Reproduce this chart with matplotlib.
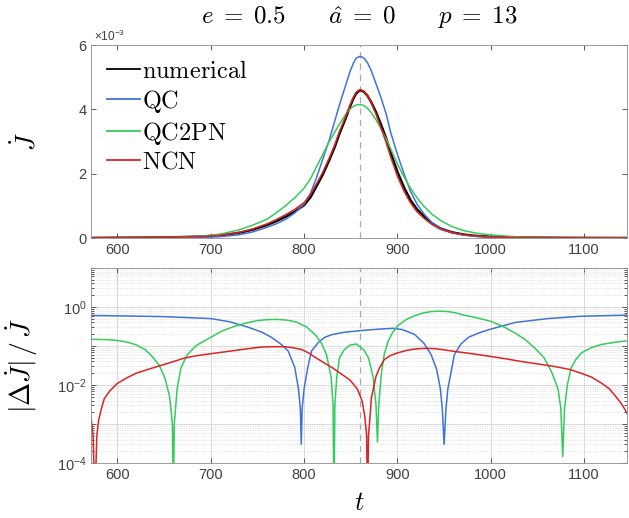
import numpy as np
import matplotlib
matplotlib.use("Agg")
import matplotlib.pyplot as plt

plt.rcParams['font.family'] = ['Liberation Sans', 'DejaVu Sans']
plt.rcParams['mathtext.fontset'] = 'custom'
plt.rcParams['mathtext.rm'] = 'Liberation Sans'
plt.rcParams['mathtext.it'] = 'Liberation Sans:italic'
plt.rcParams['mathtext.bf'] = 'Liberation Sans:bold'

# ---- top panel: flux Jdot (units of 1e-3) ----
t_top = [572, 600, 630, 660, 690, 710, 730, 745, 760, 770, 780, 790, 800, 807, 813, 820, 827,
         833, 838, 844, 849, 853, 856, 860, 864, 868, 872, 877, 882, 888, 893, 900, 907, 914,
         921, 929, 937, 946, 958, 971, 985, 1000, 1025, 1050, 1100, 1150]
jdot_num = [0.005, 0.01, 0.015, 0.025, 0.045, 0.08, 0.16, 0.26, 0.40, 0.52, 0.66, 0.82, 1.02,
            1.27, 1.59, 1.97, 2.42, 2.84, 3.25, 3.68, 4.07, 4.35, 4.50, 4.60, 4.55, 4.42, 4.22,
            3.92, 3.56, 3.10, 2.63, 2.06, 1.58, 1.18, 0.89, 0.66, 0.46, 0.30, 0.18, 0.11, 0.065,
            0.04, 0.02, 0.012, 0.005, 0.003]
jdot_qc = [0.002, 0.004, 0.006, 0.011, 0.021, 0.04, 0.10, 0.19, 0.33, 0.44, 0.58, 0.78, 1.05,
           1.40, 1.85, 2.45, 3.05, 3.65, 4.15, 4.70, 5.16, 5.45, 5.60, 5.65, 5.60, 5.45, 5.20,
           4.80, 4.40, 3.85, 3.26, 2.60, 2.00, 1.45, 1.05, 0.73, 0.48, 0.30, 0.17, 0.091, 0.05,
           0.029, 0.012, 0.006, 0.002, 0.0012]
jdot_qc2pn = [0.006, 0.012, 0.018, 0.025, 0.06, 0.12, 0.25, 0.40, 0.58, 0.78, 1.00, 1.25, 1.55,
              1.85, 2.20, 2.60, 3.00, 3.30, 3.55, 3.82, 4.00, 4.10, 4.14, 4.15, 4.12, 4.03, 3.90,
              3.68, 3.42, 3.08, 2.76, 2.30, 1.90, 1.55, 1.25, 0.97, 0.74, 0.55, 0.36, 0.23, 0.15,
              0.095, 0.042, 0.02, 0.005, 0.0025]
jdot_ncn = [0.005, 0.0101, 0.0153, 0.0256, 0.047, 0.085, 0.172, 0.282, 0.437, 0.568, 0.723, 0.89,
            1.10, 1.36, 1.67, 2.04, 2.49, 2.91, 3.32, 3.74, 4.12, 4.39, 4.54, 4.62, 4.56, 4.42,
            4.20, 3.85, 3.46, 2.96, 2.50, 1.92, 1.46, 1.09, 0.815, 0.60, 0.42, 0.275, 0.166,
            0.102, 0.061, 0.038, 0.019, 0.0115, 0.005, 0.003]

# ---- bottom panel: relative error |dJ|/J, stored as log10 ----
t_qc = [572, 600, 650, 700, 720, 740, 755, 765, 775, 783, 790, 794, 796, 797, 798, 800, 804,
        808, 815, 822, 830, 843, 860, 880, 895, 905, 918, 928, 936, 942, 946, 948, 950, 952,
        954, 958, 961, 968, 976, 988, 1000, 1026, 1061, 1097, 1150]
err_qc = [-0.22, -0.23, -0.25, -0.30, -0.38, -0.52, -0.65, -0.78, -0.95, -1.13, -1.55, -2.1,
          -2.6, -3.52, -2.6, -2.1, -1.55, -1.13, -0.92, -0.78, -0.71, -0.65, -0.61, -0.57,
          -0.55, -0.58, -0.70, -0.92, -1.22, -1.6, -2.1, -2.6, -3.52, -2.6, -2.1, -1.6, -1.22,
          -0.95, -0.78, -0.66, -0.57, -0.40, -0.30, -0.24, -0.21]

t_qc2pn = [572, 590, 600, 610, 620, 630, 637, 645, 651, 656, 659, 660, 661, 664, 668, 675, 685,
           700, 712, 725, 737, 750, 760, 771, 782, 792, 803, 813, 819, 824, 829, 831, 832, 833,
           835, 838, 843, 849, 856, 864, 869, 874, 877, 878.6, 880, 883, 886, 890, 895, 900, 909,
           918, 927, 936, 945, 954, 962, 971, 985, 1000, 1013, 1026, 1037, 1047, 1057, 1065,
           1072, 1075, 1077, 1079, 1082, 1086, 1091, 1097, 1108, 1119, 1135, 1150]
err_qc2pn = [-0.83, -0.84, -0.86, -0.90, -0.97, -1.10, -1.26, -1.50, -1.83, -2.3, -3.0, -5.0,
             -3.0, -2.1, -1.57, -1.22, -0.98, -0.78, -0.62, -0.50, -0.42, -0.35, -0.33, -0.32,
             -0.34, -0.39, -0.52, -0.74, -0.95, -1.22, -1.8, -2.5, -5.0, -2.5, -1.8, -1.3, -1.1,
             -0.98, -0.95, -1.1, -1.31, -1.8, -2.5, -3.46, -2.5, -1.66, -1.2, -0.88, -0.65, -0.49,
             -0.33, -0.23, -0.16, -0.12, -0.11, -0.12, -0.15, -0.21, -0.28, -0.37, -0.50, -0.67,
             -0.84, -1.05, -1.30, -1.66, -2.1, -2.6, -3.83, -2.6, -2.0, -1.57, -1.35, -1.18,
             -1.04, -0.96, -0.90, -0.86]

t_ncn = [572, 574, 576, 578, 580, 583, 586, 592, 600, 610, 620, 637, 655, 672, 685, 700, 725,
         740, 754, 766, 779, 789, 797, 805, 813, 822, 831, 840, 849, 857, 862, 865, 867, 868,
         869, 871, 872, 877, 881, 886, 892, 900, 909, 918, 930, 940, 950, 961, 980, 1000, 1016,
         1033, 1050, 1069, 1084, 1097, 1108, 1119, 1127, 1133, 1139, 1143, 1150]
err_ncn = [-2.87, -3.3, -5.0, -3.3, -2.9, -2.6, -2.35, -2.15, -1.96, -1.82, -1.70, -1.57, -1.44,
           -1.31, -1.25, -1.20, -1.12, -1.07, -1.03, -1.02, -1.02, -1.05, -1.09, -1.18, -1.31,
           -1.44, -1.57, -1.72, -1.87, -2.1, -2.4, -2.79, -3.3, -5.0, -3.3, -2.7, -2.35, -1.78,
           -1.55, -1.35, -1.25, -1.18, -1.12, -1.08, -1.06, -1.07, -1.10, -1.14, -1.20, -1.27,
           -1.33, -1.40, -1.46, -1.53, -1.60, -1.70, -1.80, -1.96, -2.1, -2.27, -2.45, -2.6, -2.9]

t_peak = 860
x_ticks = [600, 700, 800, 900, 1000, 1100]
top_yticks = [0, 2, 4, 6]
log_ticks = [1e-4, 1e-3, 1e-2, 1e-1, 1e0, 1e1]
log_ticklabels = [r'$10^{-4}$', '', r'$10^{-2}$', '', r'$10^{0}$', '']

c_num, c_qc, c_qc2pn, c_ncn = '#000000', '#3f73d9', '#33cc5a', '#dd2222'
tick_col = '#404040'
spine_col = '#8c8c8c'

fig = plt.figure(figsize=(6.29, 5.18), dpi=100)
ax1 = fig.add_axes([0.145, 0.5405, 0.852, 0.3725])
ax2 = fig.add_axes([0.145, 0.106, 0.852, 0.377])

ax1.plot(t_top, jdot_num, color=c_num, lw=1.7, label=r'$\mathrm{numerical}$')
ax1.plot(t_top, jdot_qc, color=c_qc, lw=1.1, label=r'$\mathrm{QC}$')
ax1.plot(t_top, jdot_qc2pn, color=c_qc2pn, lw=1.1, label=r'$\mathrm{QC2PN}$')
ax1.plot(t_top, jdot_ncn, color=c_ncn, lw=1.1, label=r'$\mathrm{NCN}$')
ax1.axvline(t_peak, color='#a8a8a8', ls='--', lw=0.9, dashes=(5, 4), zorder=0)

ax2.semilogy(t_qc, 10.0 ** np.array(err_qc), color=c_qc, lw=1.1)
ax2.semilogy(t_qc2pn, 10.0 ** np.array(err_qc2pn), color=c_qc2pn, lw=1.1)
ax2.semilogy(t_ncn, 10.0 ** np.array(err_ncn), color=c_ncn, lw=1.1)
ax2.axvline(t_peak, color='#a8a8a8', ls='--', lw=0.9, dashes=(5, 4), zorder=0)

for ax in (ax1, ax2):
    ax.set_xlim(572, 1146)
    ax.set_xticks(x_ticks)
    ax.tick_params(which='both', direction='in', top=True, right=True,
                   colors=tick_col, labelsize=10.5, length=3.5, width=0.6)
    for sp in ax.spines.values():
        sp.set_color(spine_col)
        sp.set_linewidth(0.6)

ax1.set_ylim(0, 6)
ax1.set_yticks(top_yticks)
ax1.text(0.005, 1.008, r'$\times10^{-3}$', transform=ax1.transAxes, ha='left', va='bottom',
         fontsize=8.5, color=tick_col)

ax2.set_ylim(1e-4, 10)
ax2.set_yticks(log_ticks)
ax2.set_yticklabels(log_ticklabels)
ax2.yaxis.set_minor_locator(matplotlib.ticker.LogLocator(base=10, subs=np.arange(2, 10), numticks=20))
ax2.yaxis.set_minor_formatter(matplotlib.ticker.NullFormatter())
ax2.tick_params(which='minor', length=2)
ax2.grid(True, which='major', color='#d4d4d4', lw=0.6)
ax2.grid(True, which='minor', axis='y', color='#d8d8d8', lw=0.6, ls=':')
ax2.set_axisbelow(True)

ax1.set_title(r'$e\;=\;0.5\qquad\hat{a}\;=\;0\qquad p\;=\;13$', fontsize=18, pad=15,
              math_fontfamily='cm')
ax1.set_ylabel(r'$\dot{J}$', fontsize=19, math_fontfamily='cm')
ax1.yaxis.set_label_coords(-0.095, 0.5)
ax2.set_ylabel(r'$|\Delta\dot{J}|\,/\,\dot{J}$', fontsize=20, math_fontfamily='cm')
ax2.yaxis.set_label_coords(-0.095, 0.5)
ax2.set_xlabel(r'$t$', fontsize=19, math_fontfamily='cm')
ax2.xaxis.set_label_coords(0.5, -0.145)

leg = ax1.legend(loc='upper left', frameon=False, fontsize=17.5, handlelength=1.35,
                 handletextpad=0.1, labelspacing=0.2, borderaxespad=0.45, borderpad=0.2)
for tx in leg.get_texts():
    tx.set_math_fontfamily('cm')
for ln in leg.get_lines():
    ln.set_linewidth(1.3)

fig.savefig('out.png', dpi=100)
